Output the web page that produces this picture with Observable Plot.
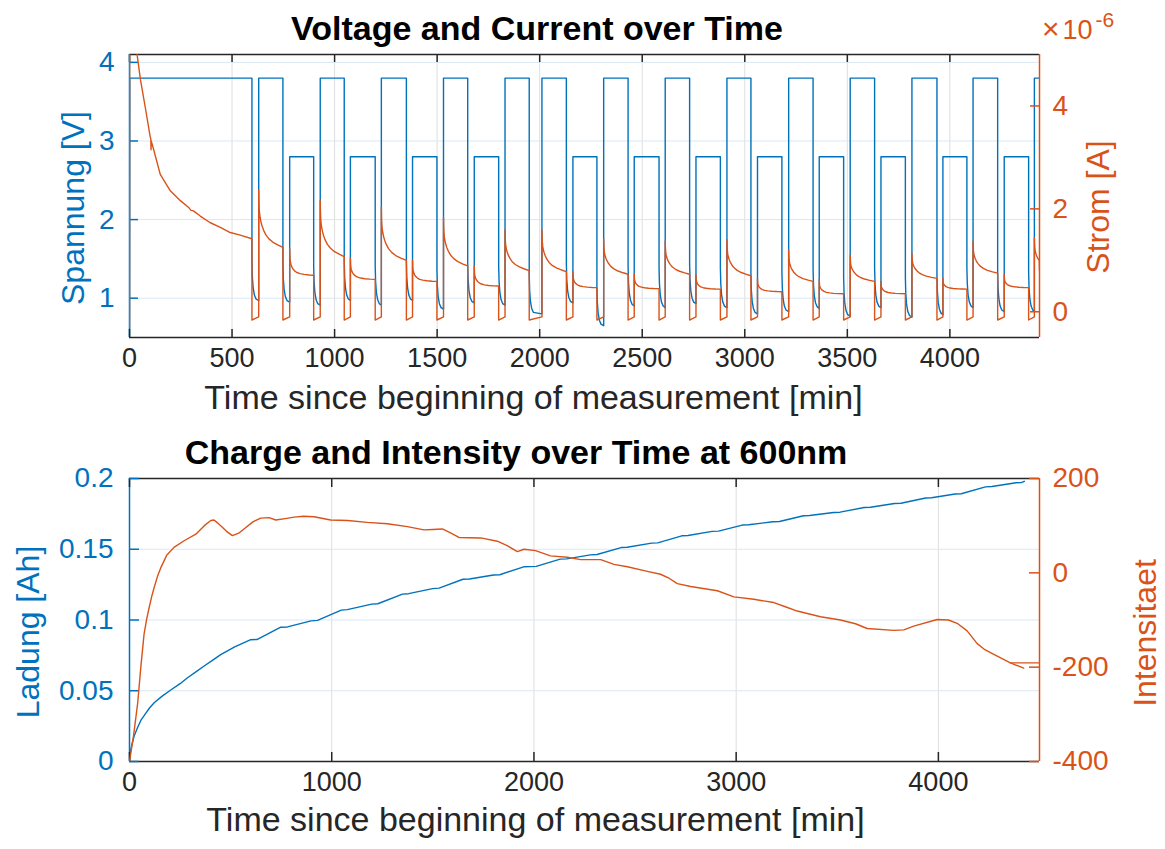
<!DOCTYPE html>
<html>
<head>
<meta charset="utf-8">
<script src="https://cdn.jsdelivr.net/npm/d3@7"></script>
<script src="https://cdn.jsdelivr.net/npm/@observablehq/plot@0.6"></script>
<style>
  body { margin: 0; background: #fff; font-family: "Liberation Sans", Arial, Helvetica, sans-serif; }
  #chart { position: relative; width: 1165px; height: 849px; background: #fff; overflow: hidden; }
  .row { position: relative; width: 1165px; }
  .title { position: absolute; font-weight: bold; font-size: 34px; color: #000; white-space: nowrap; transform: translate(-50%, -50%); line-height: 1; }
  .panel { position: relative; width: 1165px; }
  .panel svg { position: absolute; left: 0; top: 0; }
  #expo { position: absolute; left: 1042px; top: 15px; font-size: 27px; line-height: 27px; color: #D95319; white-space: nowrap; }
  #expo .times { font-size: 30px; font-weight: 300; margin-right: 3px; }
  #expo .sup { position: relative; top: -12px; font-size: 21px; margin-left: 3px; }
</style>
</head>
<body>
<div id="chart">
  <div class="row" style="height:46px">
    <div class="title" style="left:537px; top:28px">Voltage and Current over Time</div>
    <div id="expo"><span class="times">×</span>10<span class="sup">-6</span></div>
  </div>
  <div class="panel" id="p1" style="height:384px"></div>
  <div class="row" style="height:40px">
    <div class="title" style="left:516px; top:22px">Charge and Intensity over Time at 600nm</div>
  </div>
  <div class="panel" id="p2" style="height:379px"></div>
</div>
<script>
// ---------------- DATA ----------------
// Top panel: time axis
const topTimeDomain = [0, 4437];
const topTimeTicks = [0, 500, 1000, 1500, 2000, 2500, 3000, 3500, 4000];
const voltDomain = [0.5, 4.1];
const voltTicks = [1, 2, 3, 4];
const curDomain = [-0.5, 5];          // in units of 1e-6 A
const curTicks = [0, 2, 4];

// Voltage: initial hold
const voltInitT = [0, 1, 597];
const voltInitV = [0.5, 3.8, 3.8];
// Voltage pulses (minutes) and their levels (V)
const segStart = [630, 781, 930, 1077, 1228, 1380, 1531, 1681, 1831, 2011, 2162, 2312, 2461, 2612, 2762, 2913, 3062, 3214, 3363, 3514, 3664, 3815, 3966, 4113, 4265, 4412];
const segEnd   = [748, 898, 1047, 1198, 1350, 1499, 1649, 1800, 1949, 2130, 2279, 2431, 2582, 2731, 2881, 3030, 3181, 3333, 3482, 3633, 3783, 3937, 4083, 4233, 4384, 4437];
const segLevel = [3.8, 2.8, 3.8, 2.8, 3.8, 2.8, 3.8, 2.8, 3.8, 3.8, 2.8, 3.8, 2.8, 3.8, 2.8, 3.8, 2.8, 3.8, 2.8, 3.8, 2.8, 3.8, 2.8, 3.8, 2.8, 3.8];
// Lowest voltage reached in each relaxation dip before the next pulse
const dipMin = [0.97, 0.95, 0.91, 0.97, 0.91, 0.97, 0.86, 0.94, 0.91, 0.80, 0.94, 0.65, 0.90, 0.88, 0.93, 0.88, 0.80, 0.83, 0.87, 0.77, 0.88, 0.76, 0.79, 0.88, 0.83, 0.83];
// Shape of a voltage dip: minutes after switch-off, volts above the dip minimum
const dipDt = [0, 2, 6, 12, 20];
const dipDv = [0.5, 0.3, 0.16, 0.07, 0.02];

// Current: initial decay (t in min, I in 1e-6 A)
const curInitT = [0, 1, 20, 37, 53, 77, 101, 104, 105, 106, 118, 150, 199, 248, 290, 300, 312, 345, 394, 443, 491, 540, 597];
const curInitI = [-0.3, 12, 7, 5.0, 4.52, 3.97, 3.40, 3.36, 3.15, 3.32, 3.15, 2.67, 2.35, 2.16, 2.02, 1.97, 1.96, 1.86, 1.73, 1.64, 1.54, 1.49, 1.42];
// Current at the start (spike) and end of each pulse
const curSpike = [2.36, 1.24, 2.16, 1.05, 2.03, 1.00, 1.84, 0.89, 1.59, 1.59, 0.78, 1.42, 0.73, 1.37, 0.72, 1.40, 0.65, 1.20, 0.63, 1.10, 0.59, 1.14, 0.65, 1.37, 0.72, 1.44];
const curEnd   = [1.25, 0.71, 1.07, 0.63, 1.00, 0.59, 0.89, 0.50, 0.80, 0.78, 0.47, 0.73, 0.45, 0.73, 0.44, 0.70, 0.39, 0.59, 0.35, 0.59, 0.35, 0.65, 0.44, 0.75, 0.47, 0.80];
// Current during a dip (start, end)
const dipCur = [-0.16, -0.10];
// Decay shape after a spike: minutes after pulse start, fraction of (spike - end) left
const decayDt    = [0, 1, 2, 4, 7, 11, 16, 24, 35, 50, 70, 95];
const highDecay  = [1, 0.8, 0.7, 0.6, 0.52, 0.45, 0.38, 0.3, 0.22, 0.15, 0.09, 0.04];
const midDecay   = [1, 0.7, 0.58, 0.47, 0.38, 0.3, 0.23, 0.16, 0.1, 0.06, 0.03, 0.01];

// Bottom panel
const botTimeDomain = [0, 4500];
const botTimeTicks = [0, 1000, 2000, 3000, 4000];
const chargeDomain = [0, 0.2];
const chargeTicks = [0, 0.05, 0.1, 0.15, 0.2];
const intDomain = [-400, 200];
const intTicks = [-400, -200, 0, 200];

const chargeT = [0, 2, 6, 12, 23, 40, 56, 80, 100, 122, 160, 204, 250, 287, 330, 369, 410, 451, 520, 597, 630, 748, 781, 898, 930, 1047, 1077, 1198, 1228, 1350, 1380, 1499, 1531, 1649, 1681, 1800, 1831, 1949, 2011, 2130, 2162, 2279, 2312, 2431, 2461, 2582, 2612, 2731, 2762, 2881, 2913, 3030, 3062, 3181, 3214, 3333, 3363, 3482, 3514, 3633, 3664, 3783, 3815, 3937, 3966, 4083, 4113, 4233, 4265, 4384, 4412, 4425];
const chargeQ = [0, 0.004, 0.008, 0.012, 0.018, 0.024, 0.029, 0.034, 0.038, 0.0415, 0.046, 0.0505, 0.055, 0.0592, 0.0635, 0.0675, 0.0715, 0.0755, 0.081, 0.086, 0.0862, 0.0949, 0.0951, 0.0994, 0.0997, 0.107, 0.1073, 0.1112, 0.1115, 0.1183, 0.1186, 0.1222, 0.1225, 0.1288, 0.129, 0.1318, 0.132, 0.1376, 0.1379, 0.143, 0.1432, 0.146, 0.1463, 0.1512, 0.1514, 0.1543, 0.1545, 0.1595, 0.1597, 0.1626, 0.1628, 0.1671, 0.1673, 0.1694, 0.1696, 0.1737, 0.1739, 0.176, 0.1762, 0.1795, 0.1797, 0.1823, 0.1825, 0.1862, 0.1864, 0.189, 0.1892, 0.1941, 0.1943, 0.197, 0.1972, 0.198];

const intT = [0, 20, 40, 56, 72, 85, 97, 110, 122, 138, 155, 185, 220, 270, 328, 370, 402, 418, 435, 451, 480, 509, 540, 566, 610, 649, 690, 723, 770, 814, 860, 912, 995, 1078, 1176, 1275, 1374, 1456, 1500, 1547, 1590, 1629, 1737, 1819, 1870, 1918, 1951, 2008, 2082, 2165, 2231, 2330, 2396, 2462, 2561, 2626, 2670, 2709, 2775, 2907, 2989, 3087, 3186, 3250, 3302, 3417, 3516, 3590, 3648, 3780, 3829, 3878, 3994, 4050, 4093, 4142, 4192, 4230, 4274, 4356, 4422];
const intV = [-400, -345, -278, -200, -130, -98, -74, -50, -31, -8, 11, 38, 54, 68, 82, 100, 111, 112, 106, 100, 88, 79, 84, 93, 108, 116, 117, 112, 115, 118, 120, 119, 112, 111, 107, 104, 98, 91, 92, 93, 84, 75, 74, 67, 57, 45, 50, 47, 36, 33, 28, 28, 18, 13, 3, -3, -12, -23, -29, -38, -51, -56, -63, -73, -81, -93, -100, -108, -118, -122, -121, -113, -99, -100, -107, -123, -150, -163, -173, -191, -202];
const intTailT = [4356, 4500];
const intTailV = [-191, -191];

// ---------------- STYLE ----------------
const blue = "#0072BD", orange = "#D95319", axisCol = "#262626";
const gridBlue = "#d9e8f4", gridGrey = "#dedede";
const W = 1165, ML = 129, MR = 126;
const FW = W - ML - MR;
const font = '"Liberation Sans", Arial, Helvetica, sans-serif';
const xTickFS = 27, yTickFS = 28, labelFS = 32, xLabelFS = 34;

// ---------------- BUILD SERIES ----------------
const dipStartT = [voltInitT[voltInitT.length - 1], ...segEnd];
const volt = voltInitT.map((t, i) => ({t, v: voltInitV[i]}));
const cur = curInitT.map((t, i) => ({t, i: curInitI[i]}));
segStart.forEach((s, k) => {
  const d0 = dipStartT[k];
  dipDt.forEach((d, j) => { if (d0 + d < s) volt.push({t: d0 + d, v: dipMin[k] + dipDv[j]}); });
  volt.push({t: s, v: dipMin[k]});
  volt.push({t: s, v: segLevel[k]});
  volt.push({t: segEnd[k], v: segLevel[k]});

  cur.push({t: d0, i: dipCur[0]});
  cur.push({t: s, i: dipCur[1]});
  const shape = segLevel[k] > 3 ? highDecay : midDecay;
  decayDt.forEach((d, j) => {
    if (s + d < segEnd[k]) cur.push({t: s + d, i: curEnd[k] + (curSpike[k] - curEnd[k]) * shape[j]});
  });
  cur.push({t: segEnd[k], i: curEnd[k]});
});
const charge = chargeT.map((t, i) => ({t, q: chargeQ[i]}));
const inten = intT.map((t, i) => ({t, v: intV[i]}));
const intenTail = intTailT.map((t, i) => ({t, v: intTailV[i]}));

function basePlot(h, mt, mb, xDomain, yDomain, marks) {
  return Plot.plot({
    width: W, height: h, marginTop: mt, marginBottom: mb, marginLeft: ML, marginRight: MR,
    x: {domain: xDomain, axis: null},
    y: {domain: yDomain, axis: null},
    style: {background: "none", fontFamily: font, overflow: "visible"},
    marks
  });
}

// ---------------- TOP PANEL ----------------
{
  const h = 384, mt = 8, mb = 93, FH = h - mt - mb;
  const left = basePlot(h, mt, mb, topTimeDomain, voltDomain, [
    Plot.ruleX(topTimeTicks, {x: d => d, stroke: gridGrey, strokeWidth: 1}),
    Plot.ruleY(voltTicks, {y: d => d, stroke: gridBlue, strokeWidth: 1}),
    Plot.line(volt, {x: "t", y: "v", stroke: blue, strokeWidth: 1.4, clip: true}),
    Plot.ruleY([voltDomain[0], voltDomain[1]], {y: d => d, stroke: axisCol, strokeWidth: 1.5}),
    Plot.ruleX([topTimeDomain[0]], {x: d => d, stroke: blue, strokeWidth: 1.5}),
    Plot.tickX(topTimeTicks, {x: d => d, stroke: axisCol, strokeWidth: 1.5, insetTop: FH - 8}),
    Plot.tickX(topTimeTicks, {x: d => d, stroke: axisCol, strokeWidth: 1.5, insetBottom: FH - 8}),
    Plot.tickY(voltTicks, {y: d => d, stroke: blue, strokeWidth: 1.5, insetRight: FW - 9}),
    Plot.text(topTimeTicks, {x: d => d, text: d => String(d), frameAnchor: "bottom", dy: 29, fill: axisCol, fontSize: xTickFS}),
    Plot.text(voltTicks, {y: d => d, text: d => String(d), frameAnchor: "left", textAnchor: "end", dx: -15, fill: blue, fontSize: yTickFS}),
    Plot.text(["Time since beginning of measurement [min]"], {text: d => d, frameAnchor: "bottom", textAnchor: "middle", dx: -51, dy: 71, fill: axisCol, fontSize: xLabelFS}),
    Plot.text(["Spannung [V]"], {text: d => d, frameAnchor: "left", textAnchor: "middle", rotate: -90, dx: -56, dy: 12, fill: blue, fontSize: labelFS})
  ]);
  const right = basePlot(h, mt, mb, topTimeDomain, curDomain, [
    Plot.line(cur, {x: "t", y: "i", stroke: orange, strokeWidth: 1.4, clip: true}),
    Plot.ruleX([topTimeDomain[1]], {x: d => d, stroke: orange, strokeWidth: 1.5}),
    Plot.tickY(curTicks, {y: d => d, stroke: orange, strokeWidth: 1.5, insetLeft: FW - 9}),
    Plot.text(curTicks, {y: d => d, text: d => String(d), frameAnchor: "right", textAnchor: "start", dx: 13, fill: orange, fontSize: yTickFS}),
    Plot.text(["Strom [A]"], {text: d => d, frameAnchor: "right", textAnchor: "middle", rotate: -90, dx: 59, dy: 11, fill: orange, fontSize: labelFS})
  ]);
  const p = document.getElementById("p1");
  p.appendChild(left); p.appendChild(right);
}

// ---------------- BOTTOM PANEL ----------------
{
  const h = 379, mt = 8, mb = 88, FH = h - mt - mb;
  const left = basePlot(h, mt, mb, botTimeDomain, chargeDomain, [
    Plot.ruleX(botTimeTicks, {x: d => d, stroke: gridGrey, strokeWidth: 1}),
    Plot.ruleY(chargeTicks, {y: d => d, stroke: gridBlue, strokeWidth: 1}),
    Plot.line(charge, {x: "t", y: "q", stroke: blue, strokeWidth: 1.4, clip: true}),
    Plot.ruleY([chargeDomain[0], chargeDomain[1]], {y: d => d, stroke: axisCol, strokeWidth: 1.5}),
    Plot.ruleX([botTimeDomain[0]], {x: d => d, stroke: blue, strokeWidth: 1.5}),
    Plot.tickX(botTimeTicks, {x: d => d, stroke: axisCol, strokeWidth: 1.5, insetTop: FH - 9}),
    Plot.tickX(botTimeTicks, {x: d => d, stroke: axisCol, strokeWidth: 1.5, insetBottom: FH - 9}),
    Plot.tickY(chargeTicks, {y: d => d, stroke: blue, strokeWidth: 1.5, insetRight: FW - 10}),
    Plot.text(botTimeTicks, {x: d => d, text: d => String(d), frameAnchor: "bottom", dy: 29, fill: axisCol, fontSize: xTickFS}),
    Plot.text(chargeTicks, {y: d => d, text: d => String(d), frameAnchor: "left", textAnchor: "end", dx: -16, fill: blue, fontSize: yTickFS}),
    Plot.text(["Time since beginning of measurement [min]"], {text: d => d, frameAnchor: "bottom", textAnchor: "middle", dx: -49, dy: 69, fill: axisCol, fontSize: xLabelFS}),
    Plot.text(["Ladung [Ah]"], {text: d => d, frameAnchor: "left", textAnchor: "middle", rotate: -90, dx: -101, dy: 12, fill: blue, fontSize: labelFS})
  ]);
  const right = basePlot(h, mt, mb, botTimeDomain, intDomain, [
    Plot.line(inten, {x: "t", y: "v", stroke: orange, strokeWidth: 1.4, clip: true}),
    Plot.line(intenTail, {x: "t", y: "v", stroke: orange, strokeWidth: 1.4, clip: true}),
    Plot.ruleX([botTimeDomain[1]], {x: d => d, stroke: orange, strokeWidth: 1.5}),
    Plot.tickY(intTicks, {y: d => d, stroke: orange, strokeWidth: 1.5, insetLeft: FW - 10}),
    Plot.text(intTicks, {y: d => d, text: d => String(d), frameAnchor: "right", textAnchor: "start", dx: 13, fill: orange, fontSize: yTickFS}),
    Plot.text(["Intensitaet"], {text: d => d, frameAnchor: "right", textAnchor: "middle", rotate: -90, dx: 106, dy: 13, fill: orange, fontSize: labelFS})
  ]);
  const p = document.getElementById("p2");
  p.appendChild(left); p.appendChild(right);
}
</script>
</body>
</html>
